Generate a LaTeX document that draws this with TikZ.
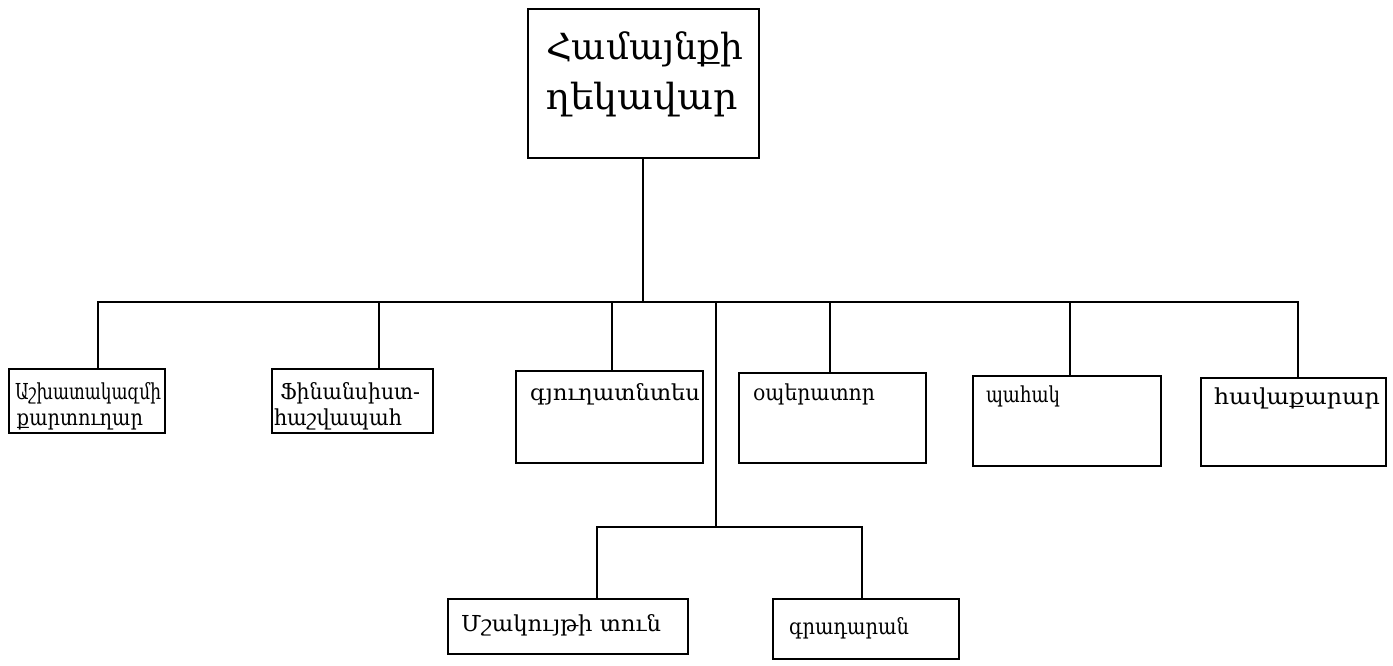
\documentclass[tikz,border=0pt]{standalone}
\usepackage{fontspec}
\usepackage{graphicx}
\setmainfont{DejaVu Serif}
\newcommand\boxtext[4]{\parbox[c][#2pt][t]{#1pt}{\raggedright\rule{0pt}{#3pt}#4}}
\newcommand\fw[3]{\hspace*{#1pt}\resizebox{#2pt}{\height}{#3}}
\begin{document}
\begin{tikzpicture}[x=1pt,y=-1pt,
  box/.style={draw, line width=2pt, inner sep=0pt, anchor=north west, font=\fontsize{22}{26}\selectfont},
  topbox/.style={box, font=\fontsize{36}{50}\selectfont},
  wire/.style={line width=2pt}]
\useasboundingbox (0,0) rectangle (1393,666);
\node[topbox] (head) at (527,8) {\boxtext{231}{149}{51}{\fw{18}{197}{Համայնքի}\\\fw{18}{192}{ղեկավար}}};
\node[box] (b1) at (8,368) {\boxtext{156}{64}{30}{\fw{6}{146}{Աշխատակազմի}\\\fw{8}{126}{քարտուղար}}};
\node[box] (b2) at (271,368) {\boxtext{161}{64}{30}{\fw{8}{140}{Ֆինանսիստ-}\\\fw{2}{128}{հաշվապահ}}};
\node[box] (b3) at (515,370) {\boxtext{187}{92}{29}{\fw{14}{170}{գյուղատնտես}}};
\node[box] (b4) at (738,372) {\boxtext{187}{90}{27}{\fw{14}{122}{օպերատոր}}};
\node[box] (b5) at (972,375) {\boxtext{188}{90}{26}{\fw{13}{74}{պահակ}}};
\node[box] (b6) at (1200,377) {\boxtext{185}{88}{26}{\fw{13}{166}{հավաքարար}}};
\node[box] (c1) at (447,598) {\boxtext{240}{55}{32}{\fw{13}{200}{Մշակույթի տուն}}};
\node[box] (c2) at (772,598) {\boxtext{186}{60}{35}{\fw{16}{120}{գրադարան}}};
\coordinate (bus) at (643,302);
\coordinate (s1) at (98,302);
\coordinate (s2) at (379,302);
\coordinate (s3) at (612,302);
\coordinate (mid) at (716,302);
\coordinate (s4) at (830,302);
\coordinate (s5) at (1070,302);
\coordinate (s6) at (1298,302);
\coordinate (sub) at (716,527);
\coordinate (t1) at (597,527);
\coordinate (t2) at (862,527);
\draw[wire] (head.south -| bus) -- (bus);
\draw[wire] (s1 |- b1.north) -- (s1) -- (s6) -- (s6 |- b6.north);
\draw[wire] (s2) -- (s2 |- b2.north);
\draw[wire] (s3) -- (s3 |- b3.north);
\draw[wire] (s4) -- (s4 |- b4.north);
\draw[wire] (s5) -- (s5 |- b5.north);
\draw[wire] (mid) -- (sub);
\draw[wire] (t1 |- c1.north) -- (t1) -- (t2) -- (t2 |- c2.north);
\end{tikzpicture}
\end{document}
